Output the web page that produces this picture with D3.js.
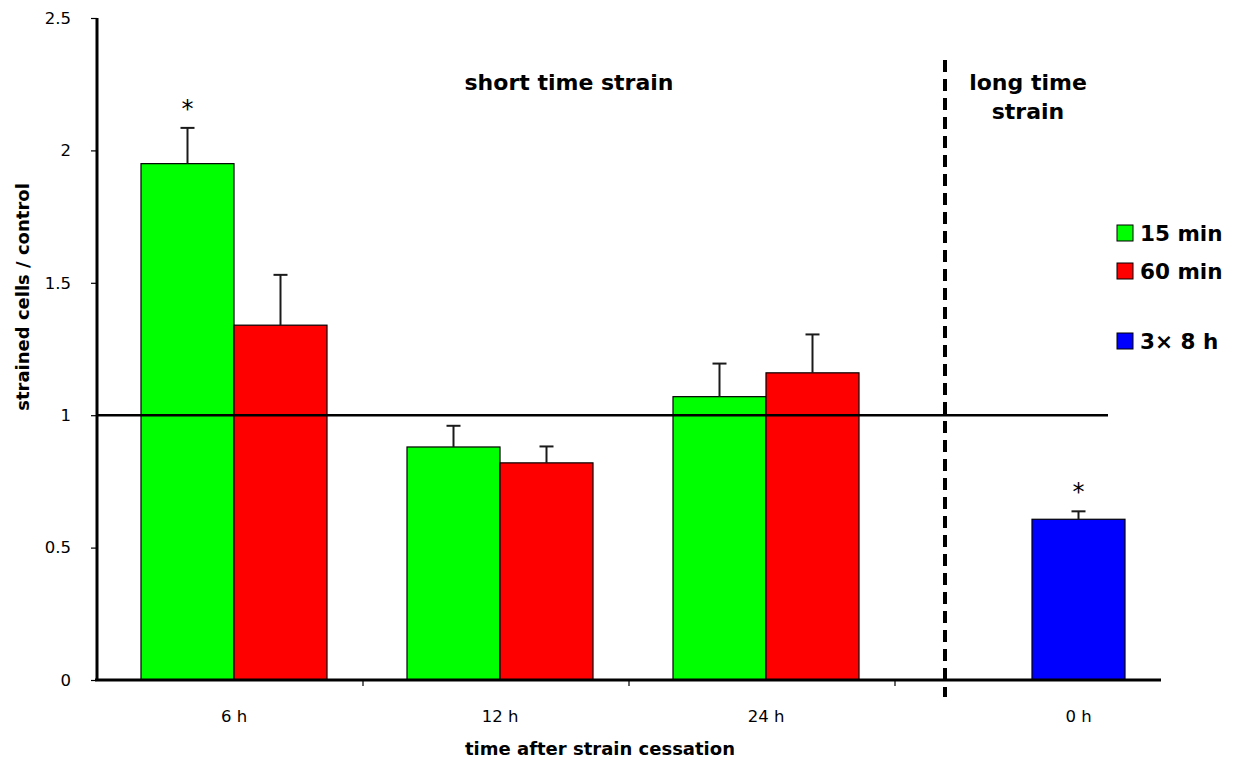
<!DOCTYPE html>
<html>
<head>
<meta charset="utf-8">
<script src="https://cdn.jsdelivr.net/npm/d3@7"></script>
<style>
  body { margin: 0; background: #fff; }
  text { font-family: "DejaVu Sans", Verdana, sans-serif; fill: #000; }
</style>
</head>
<body>
<div id="chart"></div>
<script>
// data
var categories = ["6 h", "12 h", "24 h", "0 h"];
var yTicks = [0, 0.5, 1, 1.5, 2, 2.5];
var min15 = [1.95, 0.88, 1.07, null];
var min15Err = [0.135, 0.08, 0.125, null];
var min60 = [1.34, 0.82, 1.16, null];
var min60Err = [0.19, 0.062, 0.145, null];
var h3x8 = [null, null, null, 0.607];
var h3x8Err = [null, null, null, 0.03];
var starred = [["15 min", "6 h"], ["3× 8 h", "0 h"]];

var series = [
  { name: "15 min", values: min15, errs: min15Err, slot: 0, color: "#00ff00" },
  { name: "60 min", values: min60, errs: min60Err, slot: 1, color: "#ff0000" },
  { name: "3× 8 h", values: h3x8, errs: h3x8Err, slot: 1, color: "#0000ff" }
];

var width = 1236, height = 759;
var svg = d3.select("#chart").append("svg")
  .attr("width", width).attr("height", height);

var x = d3.scaleBand().domain(categories).range([97, 1161]).padding(0);
// bar slots inside each category band
var slot = d3.scaleBand().domain([0, 1]).range([44, 230]).padding(0);
var y = d3.scaleLinear().domain([0, 2.5]).range([680, 18]);

// flatten bars
var bars = [];
series.forEach(function(s){
  s.values.forEach(function(v, i){
    if( v === null ) return;
    bars.push({ series: s.name, cat: categories[i], v: v, e: s.errs[i], slot: s.slot, color: s.color });
  });
});
var barX = function(d){ return x(d.cat) + slot(d.slot); };
var barMid = function(d){ return barX(d) + slot.bandwidth() / 2; };

svg.append("g").selectAll("rect")
  .data(bars).enter().append("rect")
  .attr("x", barX)
  .attr("y", function(d){ return y(d.v); })
  .attr("width", slot.bandwidth())
  .attr("height", function(d){ return y(0) - y(d.v); })
  .attr("fill", function(d){ return d.color; })
  .attr("stroke", "#000").attr("stroke-width", 1.2);

// error bars
var eb = svg.append("g").attr("stroke", "#1a1a1a").attr("stroke-width", 2);
eb.selectAll(".ev").data(bars).enter().append("line")
  .attr("x1", barMid).attr("x2", barMid)
  .attr("y1", function(d){ return y(d.v); })
  .attr("y2", function(d){ return y(d.v + d.e); });
eb.selectAll(".ec").data(bars).enter().append("line")
  .attr("x1", function(d){ return barMid(d) - 7; })
  .attr("x2", function(d){ return barMid(d) + 7; })
  .attr("y1", function(d){ return y(d.v + d.e); })
  .attr("y2", function(d){ return y(d.v + d.e); });

// significance stars
svg.append("g").selectAll("text")
  .data(bars.filter(function(d){
    return starred.some(function(s){ return s[0] === d.series && s[1] === d.cat; });
  }))
  .enter().append("text")
  .attr("x", barMid)
  .attr("y", function(d){ return y(d.v + d.e) - 11; })
  .attr("text-anchor", "middle")
  .style("font-size", "24px")
  .text("*");

// control level line
svg.append("line")
  .attr("x1", 97).attr("x2", 1108)
  .attr("y1", y(1)).attr("y2", y(1))
  .attr("stroke", "#000").attr("stroke-width", 2.5);

// y axis
var yAxis = svg.append("g").attr("transform", "translate(97,0)")
  .call(d3.axisLeft(y).tickValues(yTicks).tickSize(6).tickPadding(20)
    .tickFormat(function(d){ return d; }));
yAxis.select(".domain").attr("stroke-width", 3).attr("d", "M0," + y(2.5) + "V" + y(0));
yAxis.selectAll(".tick line").attr("stroke-width", 1.2);
yAxis.selectAll("text").style("font-size", "16.5px").style("font-family", "'DejaVu Sans', Verdana, sans-serif");

// x axis: ticks on category boundaries, labels under bars
var xAxis = svg.append("g").attr("transform", "translate(0," + y(0) + ")");
xAxis.append("line").attr("x1", 95).attr("x2", 1161)
  .attr("stroke", "#000").attr("stroke-width", 3);
xAxis.selectAll(".xt").data(categories.slice(1)).enter().append("line")
  .attr("x1", function(d){ return x(d); }).attr("x2", function(d){ return x(d); })
  .attr("y1", 0).attr("y2", 6)
  .attr("stroke", "#000").attr("stroke-width", 1.2);
xAxis.selectAll(".xl").data(categories).enter().append("text")
  .attr("x", function(c){
    var bs = bars.filter(function(b){ return b.cat === c; });
    return d3.mean(bs, barMid);
  })
  .attr("y", 42)
  .attr("text-anchor", "middle")
  .style("font-size", "16.5px")
  .text(function(d){ return d; });

// dashed separator
svg.append("line")
  .attr("x1", 945).attr("x2", 945)
  .attr("y1", 60).attr("y2", 697)
  .attr("stroke", "#000").attr("stroke-width", 4)
  .attr("stroke-dasharray", "12,7");

// titles
svg.append("text").attr("x", 600).attr("y", 755)
  .attr("text-anchor", "middle").style("font-size", "18px").style("font-weight", "bold")
  .text("time after strain cessation");
svg.append("text").attr("transform", "translate(29,297) rotate(-90)")
  .attr("text-anchor", "middle").style("font-size", "18px").style("font-weight", "bold")
  .text("strained cells / control");
svg.append("text").attr("x", 569).attr("y", 90)
  .attr("text-anchor", "middle").style("font-size", "22px").style("font-weight", "bold")
  .text("short time strain");
svg.append("text").attr("x", 1028).attr("y", 90)
  .attr("text-anchor", "middle").style("font-size", "22px").style("font-weight", "bold")
  .text("long time");
svg.append("text").attr("x", 1028).attr("y", 119)
  .attr("text-anchor", "middle").style("font-size", "22px").style("font-weight", "bold")
  .text("strain");

// legend
var legendY = [233, 271, 341];
var legend = svg.append("g").selectAll("g")
  .data(series).enter().append("g")
  .attr("transform", function(d, i){ return "translate(1117," + legendY[i] + ")"; });
legend.append("rect").attr("x", 0).attr("y", -8).attr("width", 16).attr("height", 16)
  .attr("fill", function(d){ return d.color; })
  .attr("stroke", "#000").attr("stroke-width", 1);
legend.append("text").attr("x", 23).attr("y", 8)
  .style("font-size", "21.5px").style("font-weight", "bold")
  .text(function(d){ return d.name; });
</script>
</body>
</html>
